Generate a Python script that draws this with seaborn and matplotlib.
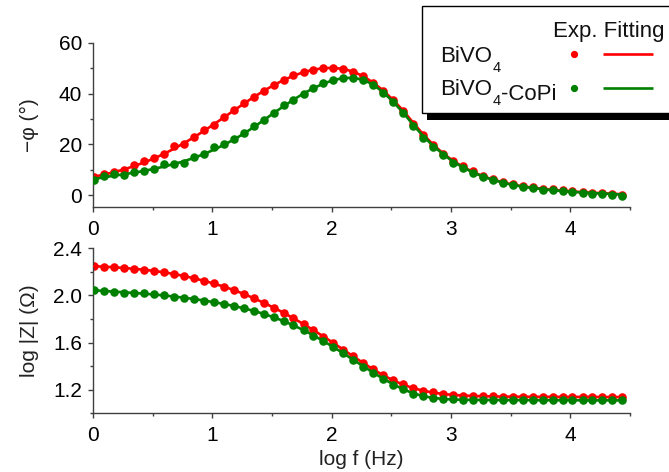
import matplotlib
matplotlib.use("Agg")
import matplotlib.pyplot as plt
import pandas as pd
import seaborn as sns
from matplotlib.ticker import MultipleLocator, FormatStrFormatter
from matplotlib.patches import Rectangle

# Frequency sweep (log10 of f in Hz)
log_f = [0.010, 0.094, 0.177, 0.261, 0.344, 0.428, 0.511, 0.595, 0.678, 0.762,
         0.845, 0.929, 1.012, 1.096, 1.179, 1.263, 1.346, 1.430, 1.513, 1.597,
         1.680, 1.764, 1.847, 1.931, 2.014, 2.098, 2.181, 2.265, 2.348, 2.432,
         2.515, 2.599, 2.682, 2.766, 2.849, 2.933, 3.016, 3.100, 3.183, 3.267,
         3.350, 3.434, 3.517, 3.601, 3.684, 3.768, 3.851, 3.935, 4.018, 4.102,
         4.185, 4.269, 4.352, 4.436]

# Phase angle -phi (deg)
phase_bivo4_exp = [7.2, 8.5, 9.2, 10.1, 11.8, 13.5, 14.8, 16.4, 19.3, 20.3,
                   23.0, 25.6, 27.8, 30.8, 33.5, 36.4, 38.5, 41.0, 43.3, 45.3,
                   47.2, 48.3, 49.2, 49.9, 50.1, 49.6, 48.3, 46.9, 44.2, 41.2,
                   37.4, 33.0, 28.2, 23.6, 19.8, 16.3, 13.5, 11.5, 9.4, 7.7,
                   6.3, 5.3, 4.3, 3.7, 3.2, 2.6, 2.3, 1.9, 1.6, 1.3,
                   1.0, 0.8, 0.6, 0.3]
phase_bivo4_fit = [7.3, 8.2, 9.1, 10.2, 11.5, 12.9, 14.5, 16.3, 18.3, 20.5,
                   22.8, 25.3, 27.9, 30.6, 33.3, 36.0, 38.6, 41.0, 43.3, 45.3,
                   47.0, 48.4, 49.4, 50.0, 50.1, 49.7, 48.6, 46.8, 44.3, 41.2,
                   37.5, 33.3, 28.6, 24.0, 20.0, 16.5, 13.6, 11.2, 9.2, 7.5,
                   6.2, 5.1, 4.2, 3.5, 3.0, 2.5, 2.1, 1.8, 1.5, 1.2,
                   1.0, 0.8, 0.6, 0.4]
phase_copi_exp = [6.2, 7.5, 8.3, 7.9, 9.2, 9.4, 10.2, 12.5, 12.2, 12.7,
                  15.1, 16.4, 18.8, 20.1, 22.3, 24.5, 27.2, 29.6, 32.4, 35.4,
                  37.4, 40.0, 42.0, 44.2, 45.3, 46.3, 46.3, 45.3, 43.3, 40.3,
                  36.7, 32.2, 27.2, 22.7, 19.0, 15.7, 12.8, 10.9, 8.8, 7.2,
                  5.9, 4.9, 3.9, 3.3, 2.9, 2.2, 2.0, 1.6, 1.3, 0.9,
                  0.7, 0.4, 0.3, -0.3]
phase_copi_fit = [6.4, 7.1, 7.7, 8.3, 8.9, 9.6, 10.4, 11.3, 12.3, 13.4,
                  14.7, 16.2, 17.9, 19.8, 21.9, 24.2, 26.8, 29.5, 32.3, 35.0,
                  37.6, 40.0, 42.1, 43.9, 45.3, 46.1, 46.2, 45.4, 43.5, 40.5,
                  36.8, 32.5, 27.8, 23.3, 19.5, 16.2, 13.3, 11.0, 9.0, 7.4,
                  6.1, 5.0, 4.1, 3.4, 2.9, 2.4, 2.0, 1.7, 1.4, 1.1,
                  0.9, 0.7, 0.5, 0.3]

# Impedance modulus log|Z| (Ohm)
logz_bivo4_exp = [2.250, 2.245, 2.239, 2.233, 2.225, 2.216, 2.208, 2.197, 2.182, 2.166,
                  2.146, 2.126, 2.103, 2.075, 2.047, 2.013, 1.976, 1.940, 1.897, 1.855,
                  1.807, 1.759, 1.708, 1.651, 1.595, 1.538, 1.482, 1.425, 1.372, 1.327,
                  1.282, 1.245, 1.215, 1.193, 1.177, 1.165, 1.157, 1.151, 1.147, 1.145,
                  1.143, 1.142, 1.142, 1.141, 1.141, 1.140, 1.140, 1.140, 1.139, 1.139,
                  1.139, 1.139, 1.138, 1.138]
logz_bivo4_fit = [2.248, 2.244, 2.239, 2.233, 2.226, 2.218, 2.208, 2.196, 2.182, 2.165,
                  2.146, 2.125, 2.101, 2.075, 2.046, 2.013, 1.977, 1.938, 1.897, 1.853,
                  1.806, 1.757, 1.706, 1.652, 1.597, 1.540, 1.483, 1.427, 1.373, 1.323,
                  1.280, 1.243, 1.214, 1.192, 1.176, 1.164, 1.156, 1.151, 1.147, 1.145,
                  1.143, 1.142, 1.141, 1.141, 1.140, 1.140, 1.140, 1.139, 1.139, 1.139,
                  1.139, 1.138, 1.138, 1.138]
logz_copi_exp = [2.047, 2.038, 2.027, 2.024, 2.022, 2.020, 2.010, 2.004, 1.990, 1.982,
                 1.971, 1.956, 1.945, 1.928, 1.914, 1.892, 1.869, 1.844, 1.815, 1.784,
                 1.745, 1.708, 1.660, 1.615, 1.561, 1.510, 1.454, 1.397, 1.343, 1.295,
                 1.244, 1.202, 1.168, 1.146, 1.132, 1.124, 1.119, 1.116, 1.115, 1.114,
                 1.114, 1.113, 1.113, 1.113, 1.112, 1.112, 1.112, 1.112, 1.111, 1.111,
                 1.111, 1.111, 1.110, 1.110]
logz_copi_fit = [2.044, 2.038, 2.032, 2.027, 2.021, 2.015, 2.008, 2.000, 1.991, 1.981,
                 1.970, 1.957, 1.943, 1.928, 1.911, 1.891, 1.869, 1.844, 1.815, 1.783,
                 1.746, 1.706, 1.661, 1.613, 1.562, 1.509, 1.454, 1.399, 1.345, 1.294,
                 1.246, 1.204, 1.170, 1.146, 1.131, 1.122, 1.117, 1.115, 1.114, 1.113,
                 1.113, 1.112, 1.112, 1.112, 1.111, 1.111, 1.111, 1.111, 1.111, 1.110,
                 1.110, 1.110, 1.110, 1.110]

samples = ["BiVO4", "BiVO4-CoPi"]
sample_suffixes = ["", "-CoPi"]
sample_colors = ["#ff0000", "#008000"]

exp_df = pd.concat([
    pd.DataFrame({"log_f": log_f, "phase": phase_bivo4_exp, "logz": logz_bivo4_exp, "sample": "BiVO4"}),
    pd.DataFrame({"log_f": log_f, "phase": phase_copi_exp, "logz": logz_copi_exp, "sample": "BiVO4-CoPi"}),
], ignore_index=True)
fit_df = pd.concat([
    pd.DataFrame({"log_f": log_f, "phase": phase_bivo4_fit, "logz": logz_bivo4_fit, "sample": "BiVO4"}),
    pd.DataFrame({"log_f": log_f, "phase": phase_copi_fit, "logz": logz_copi_fit, "sample": "BiVO4-CoPi"}),
], ignore_index=True)

sns.set_theme(style="ticks")
plt.rcParams["font.family"] = ["Liberation Sans", "DejaVu Sans"]

W, H = 669, 472
fig = plt.figure(figsize=(W / 100, H / 100), dpi=100)
fig.patch.set_facecolor("white")

x0, x1 = 93, 630
ax_phase = fig.add_axes([x0 / W, 1 - 207 / H, (x1 - x0) / W, (207 - 42.7) / H])
ax_mod = fig.add_axes([x0 / W, 1 - 413.3 / H, (x1 - x0) / W, (413.3 - 248.3) / H])

spine_c = "#404040"
fs = 15

# Each sample: measured points, then its fitted curve on top
for k, (key, col) in enumerate(zip(samples, sample_colors)):
    e = exp_df[exp_df["sample"] == key]
    f = fit_df[fit_df["sample"] == key]
    for ax, col_y in ((ax_phase, "phase"), (ax_mod, "logz")):
        sns.scatterplot(data=e, x="log_f", y=col_y, color=col, s=38, marker="o",
                        linewidth=0, ax=ax, zorder=2 + 2 * k, legend=False)
        sns.lineplot(data=f, x="log_f", y=col_y, color=col, linewidth=1.9,
                     estimator=None, sort=False, ax=ax, zorder=3 + 2 * k, legend=False)

for ax in (ax_phase, ax_mod):
    sns.despine(ax=ax)
    ax.set_facecolor("white")
    ax.set_xlim(0, 4.5)
    ax.xaxis.set_major_locator(MultipleLocator(1))
    ax.xaxis.set_minor_locator(MultipleLocator(0.5))
    for s in ("left", "bottom"):
        ax.spines[s].set_color(spine_c)
        ax.spines[s].set_linewidth(1.0)
    ax.tick_params(which="major", direction="out", length=3.8, width=1.0,
                   color=spine_c, labelsize=fs, labelcolor="black")
    ax.tick_params(which="minor", direction="out", length=2.3, width=1.0, color=spine_c)
    ax.tick_params(axis="x", which="major", pad=5.5)
    ax.tick_params(axis="y", which="major", pad=4)
    ax.set_xlabel("")
    ax.set_ylabel("")

ax_phase.set_ylim(-4.6, 60)
ax_phase.yaxis.set_major_locator(MultipleLocator(20))
ax_phase.yaxis.set_minor_locator(MultipleLocator(10))
ax_phase.set_ylabel("\u2212\u03c6 (\u00b0)", fontsize=fs, color="#222222")
ax_phase.yaxis.set_label_coords(-0.10, 0.5)

ax_mod.set_ylim(1.0, 2.4)
ax_mod.yaxis.set_major_locator(MultipleLocator(0.4))
ax_mod.yaxis.set_minor_locator(MultipleLocator(0.2))
ax_mod.yaxis.set_major_formatter(FormatStrFormatter("%.1f"))
ax_mod.set_ylabel("log |Z| (\u03a9)", fontsize=fs, color="#222222")
ax_mod.yaxis.set_label_coords(-0.10, 0.5)
ax_mod.set_xlabel("log f (Hz)", fontsize=fs, color="#222222")
ax_mod.xaxis.set_label_coords(0.5, -0.225)
ax_mod.xaxis.label.set_va("top")

# Legend panel with a drop shadow, laid out in pixel coordinates
lax = fig.add_axes([0, 0, 1, 1], zorder=10)
lax.set_xlim(0, W)
lax.set_ylim(H, 0)
lax.axis("off")
lax.add_patch(Rectangle((426.7, 12), 300, 107.5, facecolor="black", edgecolor="none"))
lax.add_patch(Rectangle((421.7, 6), 300, 106.7, facecolor="white", edgecolor="black", linewidth=1.0))
lax.text(553, 36.7, "Exp. Fitting", fontsize=16, ha="left", va="baseline", color="#111111")

text_c = "#111111"
for suffix, col, yb in zip(sample_suffixes, sample_colors, (61.5, 95.0)):
    # "BiVO" + dropped subscript "4" + optional suffix on the main baseline
    base = lax.text(440, yb, "BiVO", fontsize=16, ha="left", va="baseline", color=text_c)
    sub = lax.annotate("4", xy=(1, 0), xycoords=base, xytext=(0.3, -1.0),
                       textcoords="offset points", fontsize=10.5, ha="left",
                       va="center", color=text_c)
    if suffix:
        lax.annotate(suffix, xy=(1, 0), xycoords=(sub, base), xytext=(0.3, 0),
                     textcoords="offset points", fontsize=16, ha="left",
                     va="baseline", color=text_c)
    yc = yb - 7.3
    lax.plot([574], [yc], marker="o", markersize=4.2, color=col, linestyle="none")
    lax.plot([602.7, 652.7], [yc, yc], color=col, linewidth=1.9, solid_capstyle="butt")

fig.savefig("out.png", dpi=100, facecolor="white")
